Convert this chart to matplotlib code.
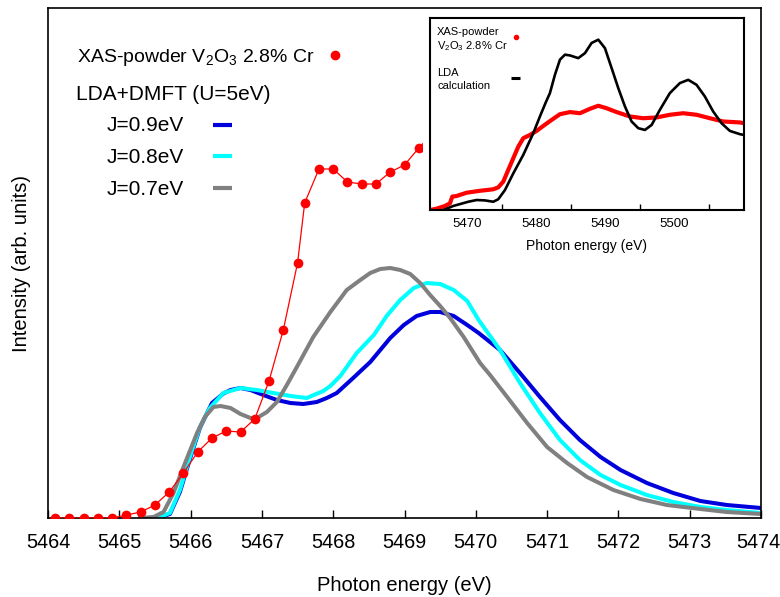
import matplotlib
matplotlib.use("Agg")
import matplotlib.pyplot as plt
from matplotlib.lines import Line2D
from matplotlib.patches import Rectangle
from matplotlib.transforms import ScaledTranslation

plt.rcParams['font.family'] = ['Liberation Sans', 'DejaVu Sans']
plt.rcParams['mathtext.fontset'] = 'custom'
plt.rcParams['mathtext.rm'] = 'Liberation Sans'

# --- measured XAS (main panel), Cr-doped V2O3 powder
xas_e = [5464.1, 5464.3, 5464.5, 5464.7, 5464.9, 5465.1, 5465.3, 5465.5, 5465.7,
         5465.9, 5466.1, 5466.3, 5466.5, 5466.7, 5466.9, 5467.1, 5467.3, 5467.5,
         5467.6, 5467.8, 5468.0, 5468.2, 5468.4, 5468.6, 5468.8, 5469.0, 5469.2,
         5469.4]
xas_i = [0.00, 0.00, 0.00, 0.00, 0.00, 0.03, 0.06, 0.13, 0.26, 0.45, 0.66, 0.80,
         0.87, 0.86, 0.99, 1.37, 1.88, 2.55, 3.15, 3.49, 3.49, 3.36, 3.34, 3.34,
         3.46, 3.53, 3.70, 3.85]

# --- LDA+DMFT (U=5eV) curves
j09_e = [5465.29, 5465.53, 5465.71, 5465.85, 5465.99, 5466.13, 5466.30, 5466.46,
         5466.56, 5466.70, 5466.84, 5467.02, 5467.21, 5467.40, 5467.58, 5467.77,
         5467.91, 5468.05, 5468.28, 5468.52, 5468.80, 5468.99, 5469.17, 5469.36,
         5469.50, 5469.69, 5469.88, 5470.04, 5470.34, 5470.62, 5470.90, 5471.18,
         5471.46, 5471.75, 5472.03, 5472.40, 5472.77, 5473.15, 5473.52, 5474.0]
j09_i = [0.00, 0.00, 0.04, 0.26, 0.59, 0.90, 1.15, 1.245, 1.28, 1.30, 1.28, 1.23,
         1.18, 1.15, 1.14, 1.16, 1.20, 1.25, 1.40, 1.56, 1.80, 1.93, 2.02, 2.06,
         2.06, 2.02, 1.93, 1.85, 1.68, 1.45, 1.21, 0.98, 0.78, 0.61, 0.48, 0.35,
         0.25, 0.17, 0.13, 0.10]

j08_e = [5465.29, 5465.53, 5465.71, 5465.85, 5465.99, 5466.13, 5466.27, 5466.46,
         5466.70, 5466.93, 5467.16, 5467.40, 5467.63, 5467.86, 5467.96, 5468.10,
         5468.33, 5468.57, 5468.75, 5468.94, 5469.13, 5469.31, 5469.50, 5469.69,
         5469.88, 5470.04, 5470.34, 5470.62, 5470.90, 5471.18, 5471.46, 5471.75,
         5472.03, 5472.40, 5472.77, 5473.15, 5473.52, 5474.0]
j08_i = [0.00, 0.00, 0.05, 0.28, 0.61, 0.91, 1.10, 1.25, 1.30, 1.28, 1.25, 1.22,
         1.20, 1.27, 1.32, 1.42, 1.65, 1.83, 2.02, 2.18, 2.30, 2.35, 2.34, 2.28,
         2.17, 1.98, 1.68, 1.35, 1.05, 0.78, 0.58, 0.43, 0.33, 0.23, 0.16, 0.11,
         0.08, 0.05]

j07_e = [5465.29, 5465.48, 5465.62, 5465.76, 5465.90, 5466.09, 5466.20, 5466.32,
         5466.42, 5466.56, 5466.70, 5466.84, 5466.93, 5467.07, 5467.21, 5467.35,
         5467.49, 5467.72, 5467.96, 5468.19, 5468.38, 5468.52, 5468.66, 5468.80,
         5468.94, 5469.08, 5469.22, 5469.36, 5469.50, 5469.64, 5469.83, 5470.06,
         5470.20, 5470.44, 5470.72, 5471.00, 5471.28, 5471.56, 5471.93, 5472.31,
         5472.68, 5473.15, 5473.52, 5474.0]
j07_i = [0.00, 0.01, 0.06, 0.25, 0.51, 0.85, 1.01, 1.11, 1.12, 1.10, 1.04, 1.00,
         1.00, 1.06, 1.16, 1.33, 1.51, 1.81, 2.06, 2.28, 2.38, 2.45, 2.49, 2.50,
         2.48, 2.44, 2.35, 2.23, 2.12, 2.00, 1.81, 1.55, 1.43, 1.21, 0.95, 0.71,
         0.55, 0.41, 0.28, 0.19, 0.13, 0.09, 0.06, 0.04]

# --- inset: wide range XAS and plain LDA
ins_xas_e = [5464.65, 5465.61, 5466.82, 5467.54, 5467.88, 5468.5, 5469.95, 5471.88,
             5473.81, 5474.53, 5475.26, 5475.98, 5476.71, 5477.43, 5478.15, 5479.12,
             5480.08, 5481.05, 5482.01, 5483.46, 5484.91, 5486.35, 5487.8, 5489.01,
             5490.21, 5491.66, 5493.59, 5495.52, 5497.45, 5499.37, 5501.3, 5503.23,
             5505.16, 5507.09, 5509.5, 5510.09]
ins_xas_i = [0.0, 0.007, 0.021, 0.035, 0.07, 0.073, 0.09, 0.10, 0.108, 0.118, 0.148,
             0.209, 0.27, 0.33, 0.374, 0.391, 0.412, 0.438, 0.463, 0.499, 0.51,
             0.504, 0.527, 0.543, 0.530, 0.51, 0.487, 0.478, 0.482, 0.496, 0.504,
             0.496, 0.478, 0.461, 0.456, 0.452]

lda_e = [5466.58, 5468.02, 5470.19, 5471.4, 5472.6, 5473.81, 5474.53, 5475.5,
         5476.71, 5478.15, 5479.6, 5480.56, 5481.4, 5482.01, 5482.73, 5483.46,
         5484.18, 5484.91, 5486.11, 5487.08, 5488.04, 5489.01, 5489.97, 5490.94,
         5491.90, 5492.87, 5493.83, 5494.80, 5495.76, 5496.73, 5497.93, 5499.37,
         5500.82, 5502.03, 5503.23, 5504.44, 5505.64, 5506.85, 5508.05, 5509.50,
         5510.09]
lda_i = [0.0, 0.021, 0.043, 0.052, 0.050, 0.043, 0.056, 0.104, 0.191, 0.287, 0.40,
         0.487, 0.56, 0.609, 0.704, 0.783, 0.809, 0.805, 0.791, 0.817, 0.870, 0.887,
         0.843, 0.739, 0.635, 0.539, 0.461, 0.426, 0.417, 0.443, 0.522, 0.609,
         0.661, 0.678, 0.652, 0.591, 0.513, 0.452, 0.412, 0.395, 0.391]

W, H = 780, 597
fig = plt.figure(figsize=(W / 100, H / 100), dpi=100)

def fx(px):
    return px / W

def fy(py):
    return 1 - py / H

ax = fig.add_axes([fx(48), fy(518), (761 - 48) / W, 510 / H])
ax.plot(j09_e, j09_i, color='#0000dd', lw=2.9, zorder=2)
ax.plot(j08_e, j08_i, color='#00ffff', lw=2.9, zorder=2.1)
ax.plot(j07_e, j07_i, color='#808080', lw=2.9, zorder=2.2)
ax.plot(xas_e, xas_i, color='red', lw=0.9, marker='o', ms=7, mew=0, zorder=3)
ax.set_xlim(5464, 5474)
ax.set_ylim(0, 5.10)
ax.set_xticks(range(5464, 5475))
ax.set_yticks([])
ax.tick_params(axis='x', direction='in', length=5.5, width=1, labelsize=14.3, pad=11)
for s in ax.spines.values():
    s.set_linewidth(1.2)
ax.set_xlabel('Photon energy (eV)', fontsize=14.5, labelpad=17)
ax.set_ylabel('Intensity (arb. units)', fontsize=14.5, labelpad=12)
last = ax.get_xticklabels()[-1]
last.set_transform(last.get_transform() + ScaledTranslation(-3 / 100, 0, fig.dpi_scale_trans))

# legend, drawn by hand
fig.text(fx(77), fy(62), 'XAS-powder V$_2$O$_3$ 2.8% Cr', fontsize=14, va='baseline')
fig.add_artist(Line2D([fx(335)], [fy(55)], marker='o', ms=7, mew=0, color='red'))
fig.text(fx(76), fy(100), 'LDA+DMFT (U=5eV)', fontsize=15, va='baseline')
for lab, col, yb, yl in [('J=0.9eV', '#0000dd', 131.5, 125),
                         ('J=0.8eV', '#00ffff', 163.3, 156.5),
                         ('J=0.7eV', '#808080', 195, 188)]:
    fig.text(fx(107), fy(yb), lab, fontsize=15, va='baseline')
    fig.add_artist(Line2D([fx(213), fx(232)], [fy(yl), fy(yl)], color=col, lw=3,
                          solid_capstyle='butt'))

# white area behind the inset
ax.add_patch(Rectangle((fx(423), fy(263)), fx(759) - fx(423), fy(9) - fy(263),
                       transform=fig.transFigure, facecolor='white', edgecolor='none',
                       zorder=10, clip_on=False))

axi = fig.add_axes([fx(430), fy(210), 314 / W, 192 / H], zorder=5)
axi.plot(ins_xas_e, ins_xas_i, color='red', lw=3)
axi.plot(lda_e, lda_i, color='black', lw=1.9)
axi.set_xlim(5464.65, 5510.1)
axi.set_ylim(0, 1)
axi.set_yticks([])
axi.set_xticks([5470, 5480, 5490, 5500])
axi.set_xticks([5475, 5485, 5495, 5505], minor=True)
axi.tick_params(axis='x', which='major', direction='in', length=0, labelsize=9.5, pad=6)
axi.tick_params(axis='x', which='minor', direction='in', length=4, width=1)
for s in axi.spines.values():
    s.set_linewidth(1.5)
axi.set_xlabel('Photon energy (eV)', fontsize=10, labelpad=6)

fig.text(fx(437), fy(35), 'XAS-powder', fontsize=8, va='baseline', zorder=20)
fig.text(fx(437), fy(49), 'V$_2$O$_3$ 2.8% Cr', fontsize=8, va='baseline', zorder=20)
fig.add_artist(Line2D([fx(516)], [fy(37)], marker='o', ms=4, mew=0, color='red', zorder=20))
fig.text(fx(437), fy(76), 'LDA', fontsize=8, va='baseline', zorder=20)
fig.text(fx(437), fy(89), 'calculation', fontsize=8, va='baseline', zorder=20)
fig.add_artist(Line2D([fx(511), fx(520)], [fy(78), fy(78)], color='black', lw=2.2,
                      solid_capstyle='butt', zorder=20))

fig.savefig('out.png', dpi=100)
